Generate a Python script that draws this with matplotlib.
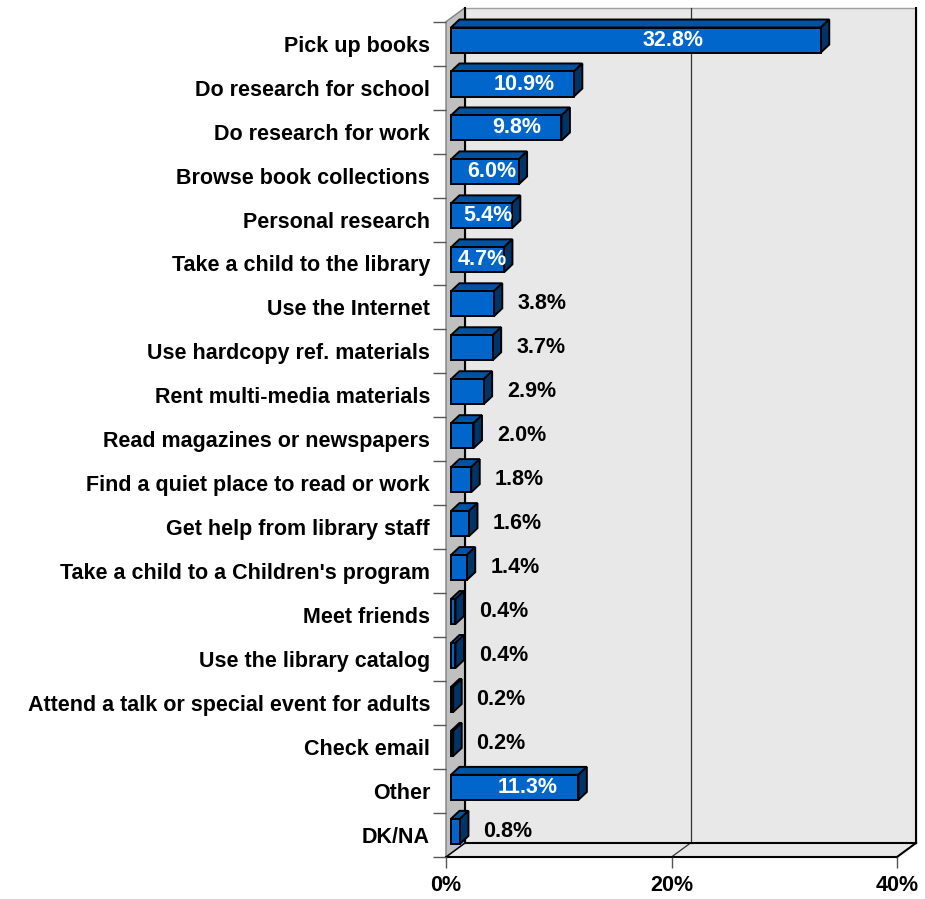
import matplotlib
matplotlib.use("Agg")
import matplotlib.pyplot as plt
from matplotlib.patches import Polygon

categories = [
    "Pick up books",
    "Do research for school",
    "Do research for work",
    "Browse book collections",
    "Personal research",
    "Take a child to the library",
    "Use the Internet",
    "Use hardcopy ref. materials",
    "Rent multi-media materials",
    "Read magazines or newspapers",
    "Find a quiet place to read or work",
    "Get help from library staff",
    "Take a child to a Children's program",
    "Meet friends",
    "Use the library catalog",
    "Attend a talk or special event for adults",
    "Check email",
    "Other",
    "DK/NA",
]
values = [32.8, 10.9, 9.8, 6.0, 5.4, 4.7, 3.8, 3.7, 2.9, 2.0, 1.8, 1.6, 1.4,
          0.4, 0.4, 0.2, 0.2, 11.3, 0.8]
xticks = [0, 20, 40]
xticklabels = ["0%", "20%", "40%"]

plt.rcParams["font.family"] = ["Liberation Sans", "DejaVu Sans"]
plt.rcParams["font.weight"] = "bold"
FS = 15.5

W, H = 925, 899
fig = plt.figure(figsize=(W / 100, H / 100), dpi=100)
ax = fig.add_axes([446 / W, (H - 857) / H, (897 - 446) / W, (857 - 21.7) / H])

n = len(categories)
xmax = 40
ax.set_xlim(0, xmax)
ax.set_ylim(n, 0)

# depth of the 3-d box, in data units
px_x = (897 - 446) / xmax
px_y = (857 - 21.7) / n
DX = 19 / px_x
DY = -14 / px_y

wall = "#e8e8e8"
side = "#c0c0c0"
kw = dict(clip_on=False)

ax.add_patch(Polygon([(DX, DY), (xmax + DX, DY), (xmax + DX, n + DY), (DX, n + DY)],
                     closed=True, fc=wall, ec="#a0a0a0", lw=1.0, zorder=0, **kw))
ax.add_patch(Polygon([(0, n), (xmax, n), (xmax + DX, n + DY), (DX, n + DY)],
                     closed=True, fc=wall, ec="none", zorder=0, **kw))
ax.add_patch(Polygon([(0, 0), (DX, DY), (DX, n + DY), (0, n)],
                     closed=True, fc=side, ec="#808080", lw=1.0, zorder=0.5, **kw))

# gridline at 20% on back wall and floor
ax.plot([20 + DX, 20 + DX], [DY, n + DY], color="#333333", lw=0.9, zorder=1, **kw)
ax.plot([20, 20 + DX], [n, n + DY], color="#333333", lw=0.9, zorder=1, **kw)
ax.plot([DX, DX], [DY, n + DY], color="black", lw=1.5, zorder=1, **kw)
ax.plot([xmax + DX, xmax + DX], [DY, n + DY], color="black", lw=1.5, zorder=1, **kw)
ax.plot([DX, xmax + DX], [n + DY, n + DY], color="black", lw=1.5, zorder=1, **kw)
ax.plot([0, xmax], [n, n], color="black", lw=1.5, zorder=1, **kw)
ax.plot([xmax, xmax + DX], [n, n + DY], color="black", lw=1.5, zorder=1, **kw)
ax.plot([0, DX], [n, n + DY], color="black", lw=1.0, zorder=1, **kw)

# bars
f1 = 0.26
bdx, bdy = 8.5 / px_x, -8 / px_y
bh = 0.57
front_c, top_c, side_c = "#0066cc", "#0052a3", "#003366"
for i, v in enumerate(values):
    x0 = f1 * DX
    yc = i + 0.5 + f1 * DY
    yt, yb = yc - bh / 2, yc + bh / 2
    x1 = x0 + v
    ax.add_patch(Polygon([(x0, yt), (x1, yt), (x1 + bdx, yt + bdy), (x0 + bdx, yt + bdy)],
                         closed=True, fc=top_c, ec="black", lw=1.4, zorder=3, **kw))
    ax.add_patch(Polygon([(x1, yt), (x1 + bdx, yt + bdy), (x1 + bdx, yb + bdy), (x1, yb)],
                         closed=True, fc=side_c, ec="black", lw=1.4, zorder=3, **kw))
    ax.add_patch(Polygon([(x0, yt), (x1, yt), (x1, yb), (x0, yb)],
                         closed=True, fc=front_c, ec="black", lw=1.4, zorder=4, **kw))
    if v >= 4.5:
        ax.text(x0 + 0.6 * v, yc, f"{v:.1f}%", color="white", fontsize=FS,
                fontweight="bold", ha="center", va="center", zorder=5)
    else:
        ax.text(v + 4.7, yc, f"{v:.1f}%", color="black", fontsize=FS,
                fontweight="bold", ha="center", va="center", zorder=5)

for s in ax.spines.values():
    s.set_visible(False)
ax.patch.set_visible(False)

ax.set_yticks([i + 0.5 for i in range(n)])
ax.set_yticklabels(categories, fontsize=FS, fontweight="bold")
ax.set_yticks(range(n + 1), minor=True)
ax.tick_params(axis="y", which="major", length=0, pad=11.5)
ax.tick_params(axis="y", which="minor", length=9.4, width=1.0, color="#555555")

ax.set_xticks(xticks)
ax.set_xticklabels(xticklabels, fontsize=FS, fontweight="bold")
ax.tick_params(axis="x", which="major", length=8, width=1.0, color="#555555", pad=5)

fig.savefig("out.png", dpi=100)
